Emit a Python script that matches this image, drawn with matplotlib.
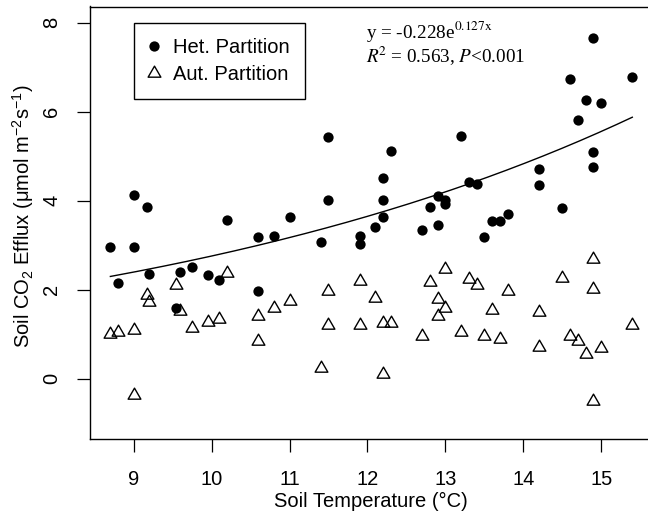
import numpy as np
import matplotlib
matplotlib.use("Agg")
import matplotlib.pyplot as plt
from matplotlib.path import Path

# ---- data ----
het_temp = [8.7, 8.8, 9.0, 9.0, 9.17, 9.2, 9.54, 9.6, 9.75, 9.95, 10.1, 10.2,
            10.6, 10.6, 10.8, 11.0, 11.4, 11.5, 11.5, 11.9, 11.9, 12.1, 12.2,
            12.2, 12.2, 12.3, 12.7, 12.8, 12.9, 12.9, 13.0, 13.0, 13.2, 13.3,
            13.4, 13.5, 13.6, 13.7, 13.8, 14.2, 14.2, 14.5, 14.6, 14.7, 14.8,
            14.9, 14.9, 14.9, 15.0, 15.4]
het_flux = [2.95, 2.15, 4.13, 2.95, 3.86, 2.36, 1.59, 2.40, 2.50, 2.34, 2.22, 3.56,
            3.18, 1.96, 3.21, 3.64, 3.06, 5.42, 4.02, 3.20, 3.03, 3.41, 3.63,
            4.01, 4.51, 5.12, 3.35, 3.86, 4.10, 3.45, 4.02, 3.93, 5.45, 4.41,
            4.38, 3.18, 3.54, 3.54, 3.71, 4.70, 4.34, 3.83, 6.73, 5.80, 6.27,
            7.66, 5.09, 4.76, 6.19, 6.77]

aut_temp = [8.7, 8.8, 9.0, 9.0, 9.17, 9.2, 9.54, 9.6, 9.75, 9.95, 10.1, 10.2,
            10.6, 10.6, 10.8, 11.0, 11.4, 11.5, 11.5, 11.9, 11.9, 12.1, 12.2,
            12.2, 12.3, 12.7, 12.8, 12.9, 12.9, 13.0, 13.0, 13.2, 13.3, 13.4,
            13.5, 13.6, 13.7, 13.8, 14.2, 14.2, 14.5, 14.6, 14.7, 14.8, 14.9,
            14.9, 14.9, 15.0, 15.4]
aut_flux = [1.00, 1.04, 1.10, -0.36, 1.87, 1.73, 2.11, 1.53, 1.15, 1.27, 1.34, 2.37,
            1.42, 0.85, 1.60, 1.75, 0.24, 1.98, 1.21, 2.20, 1.21, 1.81, 1.25,
            0.10, 1.25, 0.95, 2.18, 1.80, 1.40, 2.46, 1.60, 1.04, 2.24, 2.11,
            0.96, 1.55, 0.90, 1.96, 1.51, 0.72, 2.26, 0.97, 0.84, 0.55, 2.69,
            2.02, -0.49, 0.69, 1.21]

x_ticks = [9, 10, 11, 12, 13, 14, 15]
y_ticks = [0, 2, 4, 6, 8]
y_range = [-1, 8]
fit_a = 0.679
fit_k = 0.1401
legend_labels = ["Het. Partition", "Aut. Partition"]
eq_text = "y = -0.228e$^{\\mathrm{0.127x}}$\n$R^{\\!2}$ = 0.563, $P$<0.001"
x_label = "Soil Temperature (°C)"
y_label = r"Soil CO$_{2}$ Efflux (μmol m$^{-2}$s$^{-1}$)"

# ---- style ----
plt.rcParams["font.family"] = ["Liberation Sans", "DejaVu Sans"]
plt.rcParams["mathtext.fontset"] = "custom"
plt.rcParams["mathtext.rm"] = "Liberation Sans"
plt.rcParams["mathtext.it"] = "Liberation Sans:italic"
plt.rcParams["mathtext.bf"] = "Liberation Sans:bold"
FS = 14.5

W, H = 648, 516
fig = plt.figure(figsize=(W / 100, H / 100), dpi=100)

all_x = het_temp + aut_temp
xlo, xhi = min(all_x), max(all_x)
xpad = 0.04 * (xhi - xlo)
ypad = 0.04 * (y_range[1] - y_range[0])
xlim = (xlo - xpad, xhi + xpad)
ylim = (y_range[0] - ypad, y_range[1] + ypad)

left_px, top_px, bottom_px = 89.5, 6.5, 439.3
px_per_x = 77.9
ax_w = px_per_x * (xlim[1] - xlim[0])
ax = fig.add_axes([left_px / W, (H - bottom_px) / H, ax_w / W, (bottom_px - top_px) / H])
ax.set_xlim(*xlim)
ax.set_ylim(*ylim)

tri = Path([(0, 1), (-0.866, -0.5), (0.866, -0.5), (0, 1)], closed=True)

h1, = ax.plot(het_temp, het_flux, linestyle="none", marker="o", ms=7.4,
              mfc="black", mec="black", mew=0, label=legend_labels[0], zorder=3)
h2, = ax.plot(aut_temp, aut_flux, linestyle="none", marker=tri, ms=10.6,
              mfc="none", mec="black", mew=1.0, label=legend_labels[1], zorder=4)

xc = np.linspace(min(het_temp), max(het_temp), 200)
ax.plot(xc, fit_a * np.exp(fit_k * xc), color="black", lw=1.0, zorder=5)

ax.set_xticks(x_ticks)
ax.set_yticks(y_ticks)
ax.tick_params(direction="out", length=9.4, width=0.9, labelsize=FS,
               colors="black")
ax.tick_params(axis="x", pad=12.5)
ax.tick_params(axis="y", labelrotation=90, pad=11)
for lab in ax.get_yticklabels():
    lab.set_va("center")
for s in ax.spines.values():
    s.set_linewidth(1.0)

ax.set_xlabel(x_label, fontsize=FS)
ax.xaxis.set_label_coords(0.5, -0.122)
fig.text(23 / W, 1 - 216 / H, y_label, rotation=90, ha="center", va="center",
         fontsize=FS)

leg = ax.legend(handles=[h1, h2], loc="upper left", bbox_to_anchor=(9.0, 8.0),
                bbox_transform=ax.transData, borderaxespad=0, fontsize=FS,
                frameon=True, fancybox=False, edgecolor="black", framealpha=1,
                borderpad=0.75, labelspacing=0.42, handlelength=0.5,
                handletextpad=0.7, numpoints=1)
leg.get_frame().set_linewidth(1.0)

ax.text(11.98, 8.09, eq_text, fontsize=13.8, family="Liberation Serif",
        math_fontfamily="stix", va="top", ha="left", linespacing=1.08)

fig.savefig("out.png", dpi=100)
